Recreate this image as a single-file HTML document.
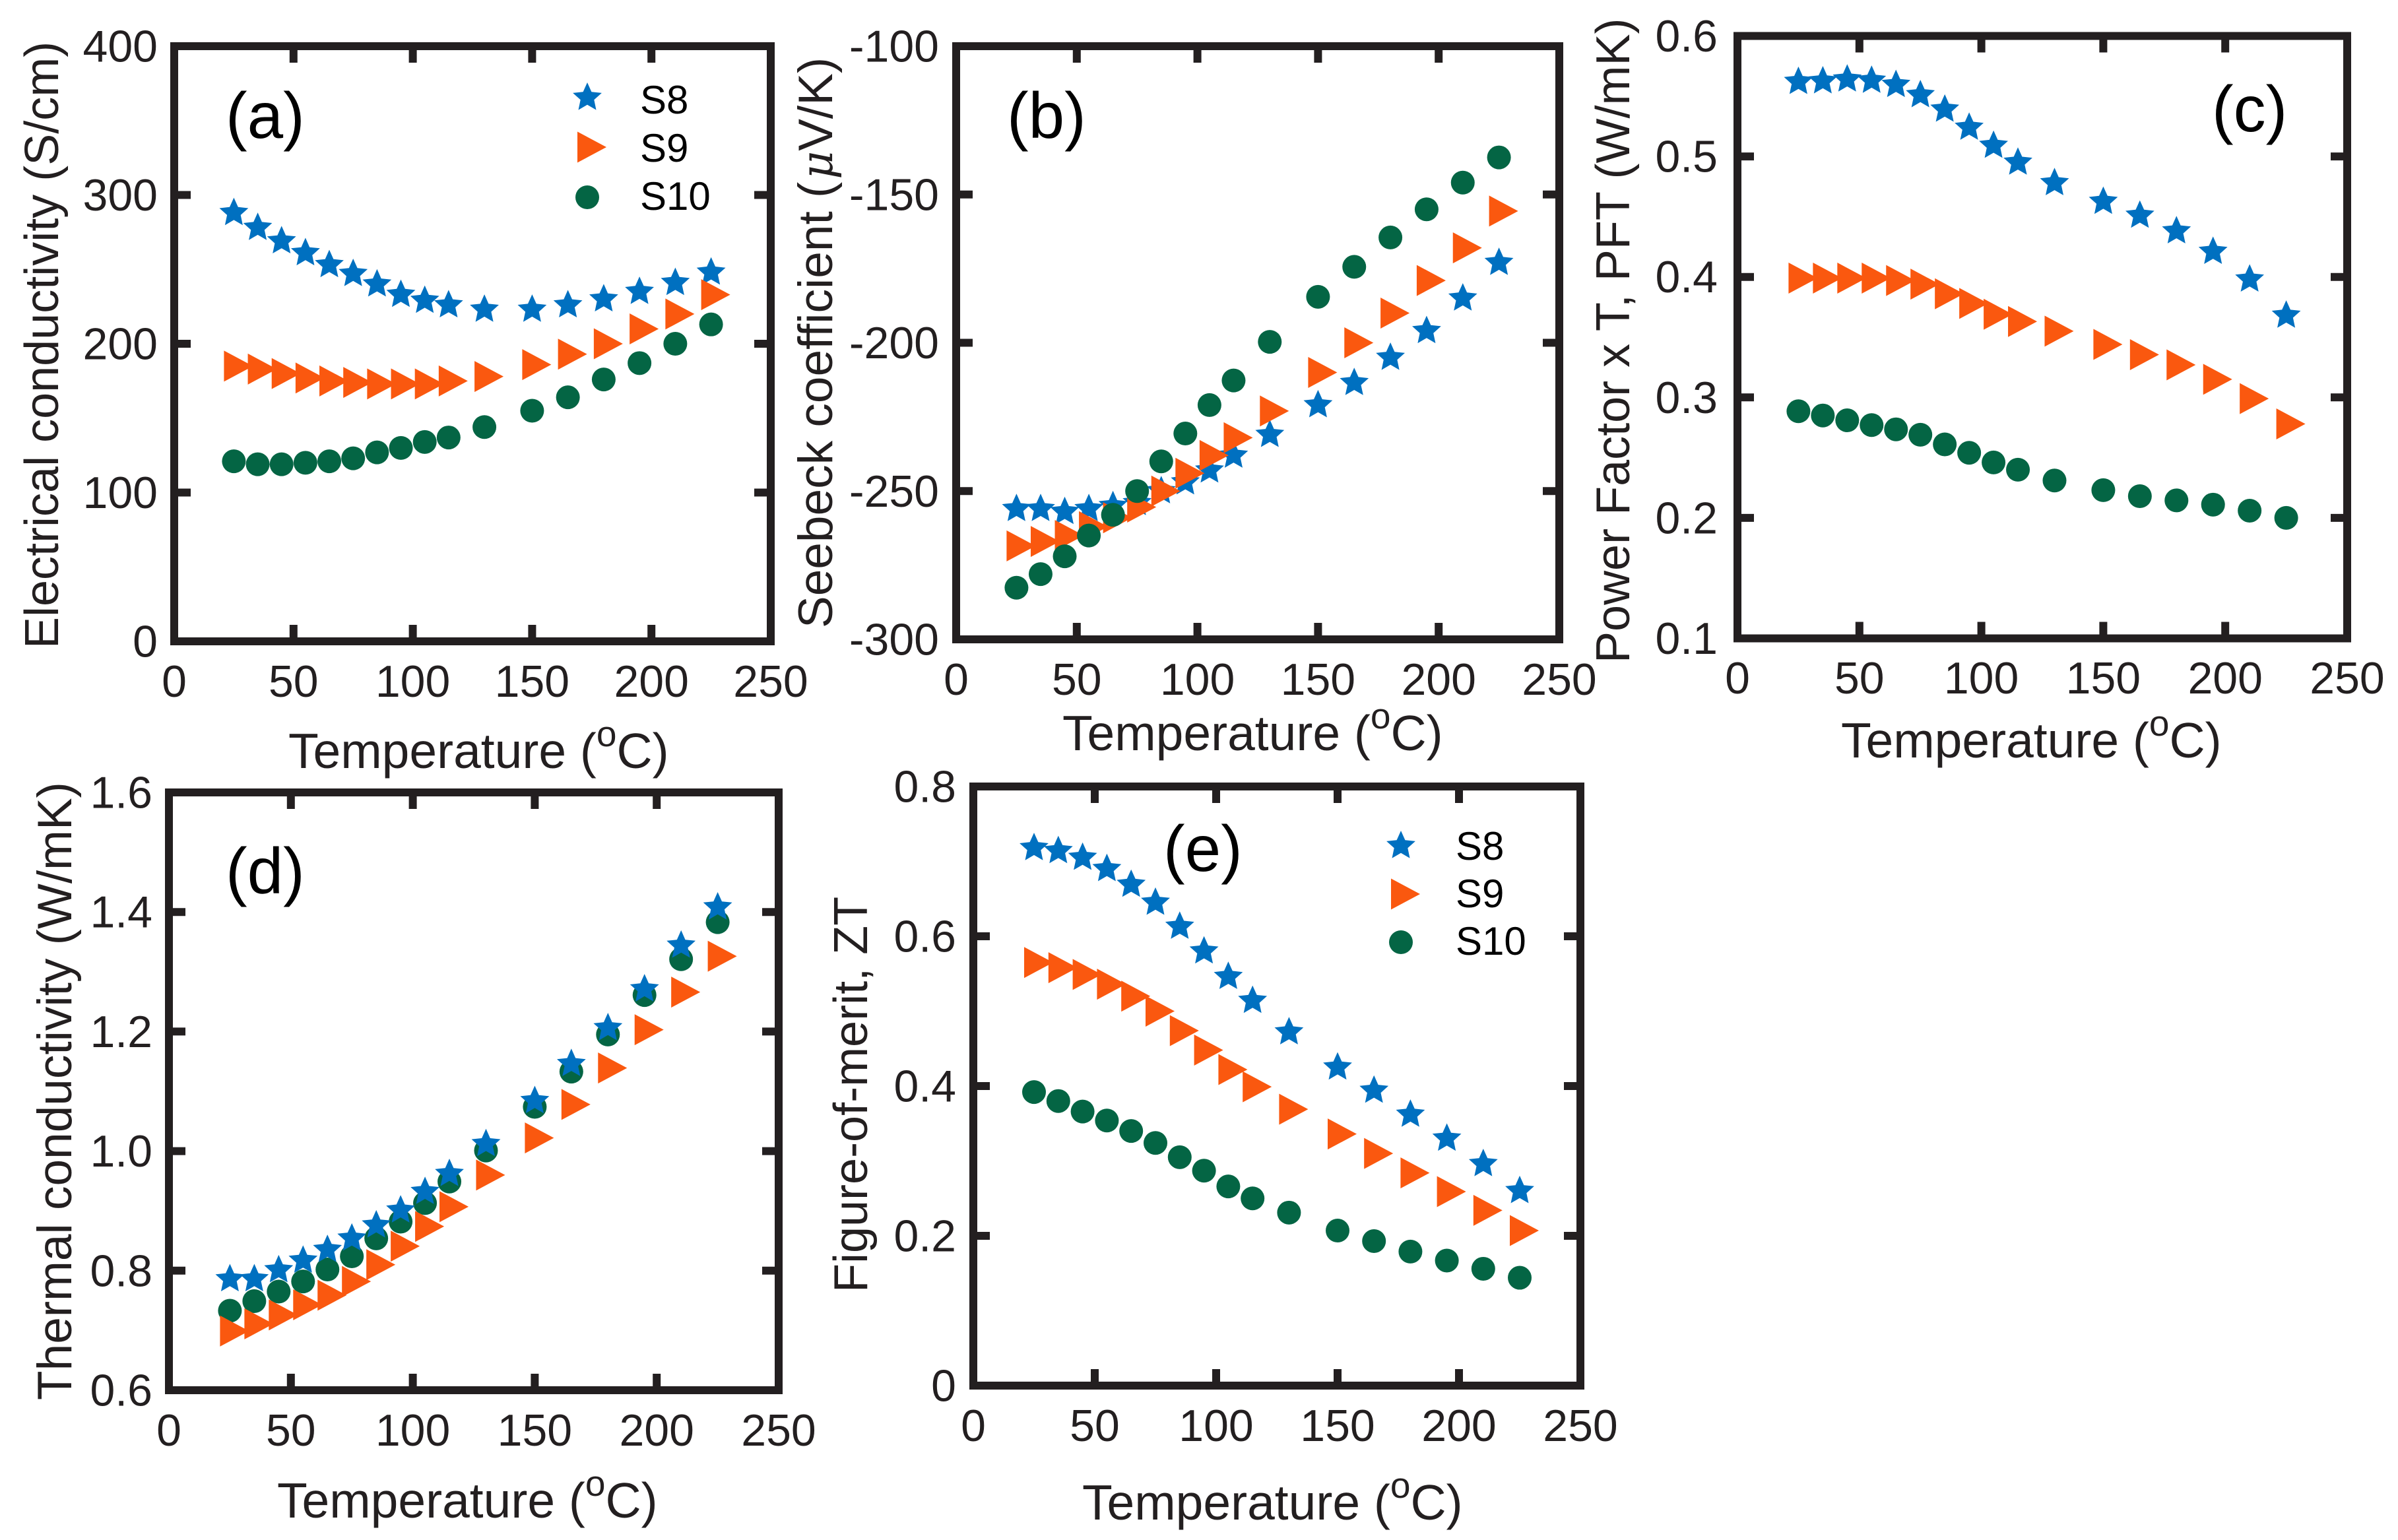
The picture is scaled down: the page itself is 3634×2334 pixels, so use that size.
<!DOCTYPE html>
<html lang="en">
<head>
<meta charset="utf-8">
<title>Thermoelectric properties of S8, S9 and S10 versus temperature</title>
<style>
html,body{margin:0;padding:0;background:#fff;}
svg{display:block;}
text{font-family:"Liberation Sans",Arial,sans-serif;fill:#231f20;}
.title{font-size:72px;}
.title-wide{font-size:73px;}
.xtitle{font-size:75px;}
.tick{font-size:68px;}
.panel{font-size:98px;fill:#000;}
.legend{font-size:60px;fill:#000;}
</style>
</head>
<body>
<svg id="figure" xmlns="http://www.w3.org/2000/svg" width="3634" height="2334" viewBox="0 0 3634 2334">
  <rect x="0" y="0" width="3634" height="2334" fill="#fff"/>

  <g id="panel-a">
    <text class="title" transform="translate(88,983) rotate(-90)">Electrical conductivity (S/cm)</text>
    <text class="xtitle" x="437" y="1164">Temperature (<tspan font-size="55" dy="-33">o</tspan><tspan dy="33">C)</tspan></text>
    <text class="panel" x="342" y="209">(a)</text>
    <text class="legend" x="970" y="172">S8</text>
    <text class="legend" x="970" y="245">S9</text>
    <text class="legend" x="970" y="318">S10</text>
  </g>

  <g id="panel-b">
    <text class="title-wide" transform="translate(1261,952) rotate(-90)">Seebeck coefficient (<tspan font-family="'DejaVu Serif','Liberation Serif',serif" font-style="italic" font-size="66" dx="4">μ</tspan>V/K)</text>
    <text class="xtitle" x="1610" y="1137">Temperature (<tspan font-size="55" dy="-33">o</tspan><tspan dy="33">C)</tspan></text>
    <text class="panel" x="1526" y="209">(b)</text>
  </g>

  <g id="panel-c">
    <text class="title" transform="translate(2469,1005) rotate(-90)">Power Factor x T, PFT (W/mK)</text>
    <text class="xtitle" x="2790" y="1148">Temperature (<tspan font-size="55" dy="-33">o</tspan><tspan dy="33">C)</tspan></text>
    <text class="panel" x="3352" y="199">(c)</text>
  </g>

  <g id="panel-d">
    <text class="title-wide" transform="translate(108,2122) rotate(-90)">Thermal conductivity (W/mK)</text>
    <text class="xtitle" x="420" y="2300">Temperature (<tspan font-size="55" dy="-33">o</tspan><tspan dy="33">C)</tspan></text>
    <text class="panel" x="342" y="1354">(d)</text>
  </g>

  <g id="panel-e">
    <text class="title" transform="translate(1314,1959) rotate(-90)">Figure-of-merit, ZT</text>
    <text class="xtitle" x="1640" y="2303">Temperature (<tspan font-size="55" dy="-33">o</tspan><tspan dy="33">C)</tspan></text>
    <text class="panel" x="1763" y="1320">(e)</text>
    <text class="legend" x="2206" y="1303">S8</text>
    <text class="legend" x="2206" y="1375">S9</text>
    <text class="legend" x="2206" y="1447">S10</text>
  </g>
</svg>

<script>
// Shared x data and tick labels
const temperature = [25,35,45,55,65,75,85,95,105,115,130,150,165,180,195,210,225];
const xTickLabels = ["0","50","100","150","200","250"];

// (a) Electrical conductivity (S/cm)
const aYTicks = ["0","100","200","300","400"];
const aS8  = [288,278,269,261,253,247,240,233,229,226,223,223,226,230,235,241,248];
const aS9  = [185,183,180,177,175,174,173,173,173,175,178,186,193,200,210,220,233];
const aS10 = [121,119,119,120,121,123,127,130,134,137,144,155,164,176,187,200,213];

// (b) Seebeck coefficient (uV/K)
const bYTicks = ["-300","-250","-200","-150","-100"];
const bS8  = [-256,-256,-257,-256,-255,-254,-250,-247,-243,-238,-231,-221,-213.5,-205,-196,-185,-173];
const bS9  = [-268.5,-267,-265,-262,-259,-255.4,-250,-244,-238,-232,-223,-210,-200,-190,-179,-168,-155.6];
const bS10 = [-282.6,-278,-272,-265,-258,-250,-240,-230.6,-221,-212.7,-199.7,-184.5,-174.4,-164.5,-155,-146,-137.5];

// (c) Power factor x T (W/mK)
const cYTicks = ["0.1","0.2","0.3","0.4","0.5","0.6"];
const cS8  = [0.562,0.5625,0.564,0.563,0.5595,0.551,0.539,0.524,0.509,0.495,0.478,0.4625,0.451,0.438,0.421,0.398,0.368];
const cS9  = [0.399,0.399,0.399,0.399,0.397,0.394,0.386,0.378,0.369,0.363,0.355,0.344,0.3355,0.327,0.315,0.299,0.278];
const cS10 = [0.2885,0.285,0.281,0.277,0.2735,0.269,0.261,0.254,0.246,0.240,0.231,0.223,0.218,0.2145,0.211,0.206,0.200];

// (d) Thermal conductivity (W/mK)
const dYTicks = ["0.6","0.8","1.0","1.2","1.4","1.6"];
const dS8  = [0.786,0.786,0.801,0.817,0.835,0.854,0.876,0.901,0.932,0.962,1.012,1.084,1.146,1.206,1.271,1.344,1.408];
const dS9  = [0.699,0.711,0.726,0.743,0.759,0.782,0.810,0.841,0.874,0.907,0.960,1.022,1.078,1.139,1.203,1.266,1.326];
const dS10 = [0.733,0.749,0.765,0.782,0.802,0.824,0.854,0.882,0.913,0.949,1.001,1.074,1.133,1.195,1.261,1.321,1.383];

// (e) Figure-of-merit, ZT
const eYTicks = ["0","0.2","0.4","0.6","0.8"];
const eS8  = [0.718,0.714,0.705,0.690,0.669,0.645,0.613,0.580,0.546,0.514,0.472,0.425,0.394,0.362,0.330,0.296,0.260];
const eS9  = [0.565,0.558,0.549,0.536,0.520,0.500,0.474,0.448,0.422,0.399,0.369,0.336,0.310,0.284,0.259,0.234,0.207];
const eS10 = [0.392,0.380,0.366,0.354,0.340,0.324,0.305,0.287,0.266,0.250,0.231,0.207,0.193,0.179,0.167,0.156,0.144];

const NS = "http://www.w3.org/2000/svg";
const INK = "#231f20";
const BLUE = "#0070c0";
const ORANGE = "#fa580f";
const GREEN = "#046544";

function make(tag, parent, attrs) {
  const el = document.createElementNS(NS, tag);
  for (const k in attrs) el.setAttribute(k, attrs[k]);
  parent.appendChild(el);
  return el;
}

function starPath(cx, cy) {
  const R = 23, r = R * 0.47;
  let d = "";
  for (let i = 0; i < 10; i++) {
    const rad = i % 2 ? r : R;
    const a = -Math.PI / 2 + i * Math.PI / 5;
    d += (i ? "L" : "M") + (cx + rad * Math.cos(a)).toFixed(1) + " " + (cy + rad * Math.sin(a)).toFixed(1);
  }
  return d + "Z";
}

function trianglePath(cx, cy) {
  return "M" + (cx - 15) + " " + (cy - 23.5) + "L" + (cx + 29) + " " + cy + "L" + (cx - 15) + " " + (cy + 23.5) + "Z";
}

function drawMarker(parent, kind, cx, cy, name) {
  let el;
  if (kind === "s10") {
    el = make("circle", parent, {cx: cx, cy: cy, r: 18, fill: GREEN});
  } else if (kind === "s9") {
    el = make("path", parent, {d: trianglePath(cx, cy), fill: ORANGE});
  } else {
    el = make("path", parent, {d: starPath(cx, cy), fill: BLUE});
  }
  
  
  return el;
}

function drawPanel(p) {
  const root = document.getElementById(p.id);
  const xScale = function (v) { return p.left + (v / 250) * (p.right - p.left); };
  const yMin = parseFloat(p.yTicks[0]);
  const yMax = parseFloat(p.yTicks[p.yTicks.length - 1]);
  const yScale = function (v) { return p.bottom - ((v - yMin) / (yMax - yMin)) * (p.bottom - p.top); };

  xTickLabels.forEach(function (label) {
    const x = xScale(parseFloat(label));
    if (label !== "0" && label !== "250") {
      const t1 = make("line", root, {x1: x, x2: x, y1: p.bottom, y2: p.bottom - 25, stroke: INK, "stroke-width": 12});
      
      
      const t2 = make("line", root, {x1: x, x2: x, y1: p.top, y2: p.top + 25, stroke: INK, "stroke-width": 12});
      
      
    }
    const txt = make("text", root, {x: x, y: p.xLabelY, "text-anchor": "middle", class: "tick"});
    txt.textContent = label;
    
    
  });

  p.yTicks.forEach(function (label, i) {
    const y = yScale(parseFloat(label));
    if (i !== 0 && i !== p.yTicks.length - 1) {
      const t1 = make("line", root, {x1: p.left, x2: p.left + 25, y1: y, y2: y, stroke: INK, "stroke-width": 12});
      
      
      const t2 = make("line", root, {x1: p.right, x2: p.right - 25, y1: y, y2: y, stroke: INK, "stroke-width": 12});
      
      
    }
    const txt = make("text", root, {x: p.yLabelX, y: y + 23.5, "text-anchor": "end", class: "tick"});
    txt.textContent = label;
    
    
  });

  const frame = make("rect", root, {x: p.left, y: p.top, width: p.right - p.left, height: p.bottom - p.top, fill: "none", stroke: INK, "stroke-width": 12});
  
  

  p.order.forEach(function (key) {
    const values = p.series[key];
    const g = make("g", root, {});
    
    
    values.forEach(function (v, i) {
      drawMarker(g, key, xScale(temperature[i]), yScale(v), 'point-' + key);
    });
  });

  if (p.legend) {
    const keys = ["s8", "s9", "s10"];
    keys.forEach(function (key, i) {
      drawMarker(root, key, p.legend.x, p.legend.y[i], 'legend-marker-' + key);
    });
  }
}

drawPanel({id: "panel-a", left: 264, right: 1168, top: 70, bottom: 972, xLabelY: 1056, yLabelX: 239,
  yTicks: aYTicks, series: {s8: aS8, s9: aS9, s10: aS10}, order: ["s8", "s9", "s10"],
  legend: {x: 890, y: [148, 223, 299]}});
drawPanel({id: "panel-b", left: 1449, right: 2363, top: 70, bottom: 969, xLabelY: 1053, yLabelX: 1423,
  yTicks: bYTicks, series: {s8: bS8, s9: bS9, s10: bS10}, order: ["s8", "s9", "s10"]});
drawPanel({id: "panel-c", left: 2633, right: 3557, top: 54.5, bottom: 967.5, xLabelY: 1051, yLabelX: 2603,
  yTicks: cYTicks, series: {s8: cS8, s9: cS9, s10: cS10}, order: ["s8", "s9", "s10"]});
drawPanel({id: "panel-d", left: 256, right: 1180, top: 1201, bottom: 2107, xLabelY: 2191, yLabelX: 231,
  yTicks: dYTicks, series: {s8: dS8, s9: dS9, s10: dS10}, order: ["s10", "s9", "s8"]});
drawPanel({id: "panel-e", left: 1475, right: 2395, top: 1192, bottom: 2100, xLabelY: 2184, yLabelX: 1449,
  yTicks: eYTicks, series: {s8: eS8, s9: eS9, s10: eS10}, order: ["s8", "s9", "s10"],
  legend: {x: 2123, y: [1282, 1355, 1428]}});
</script>
</body>
</html>
